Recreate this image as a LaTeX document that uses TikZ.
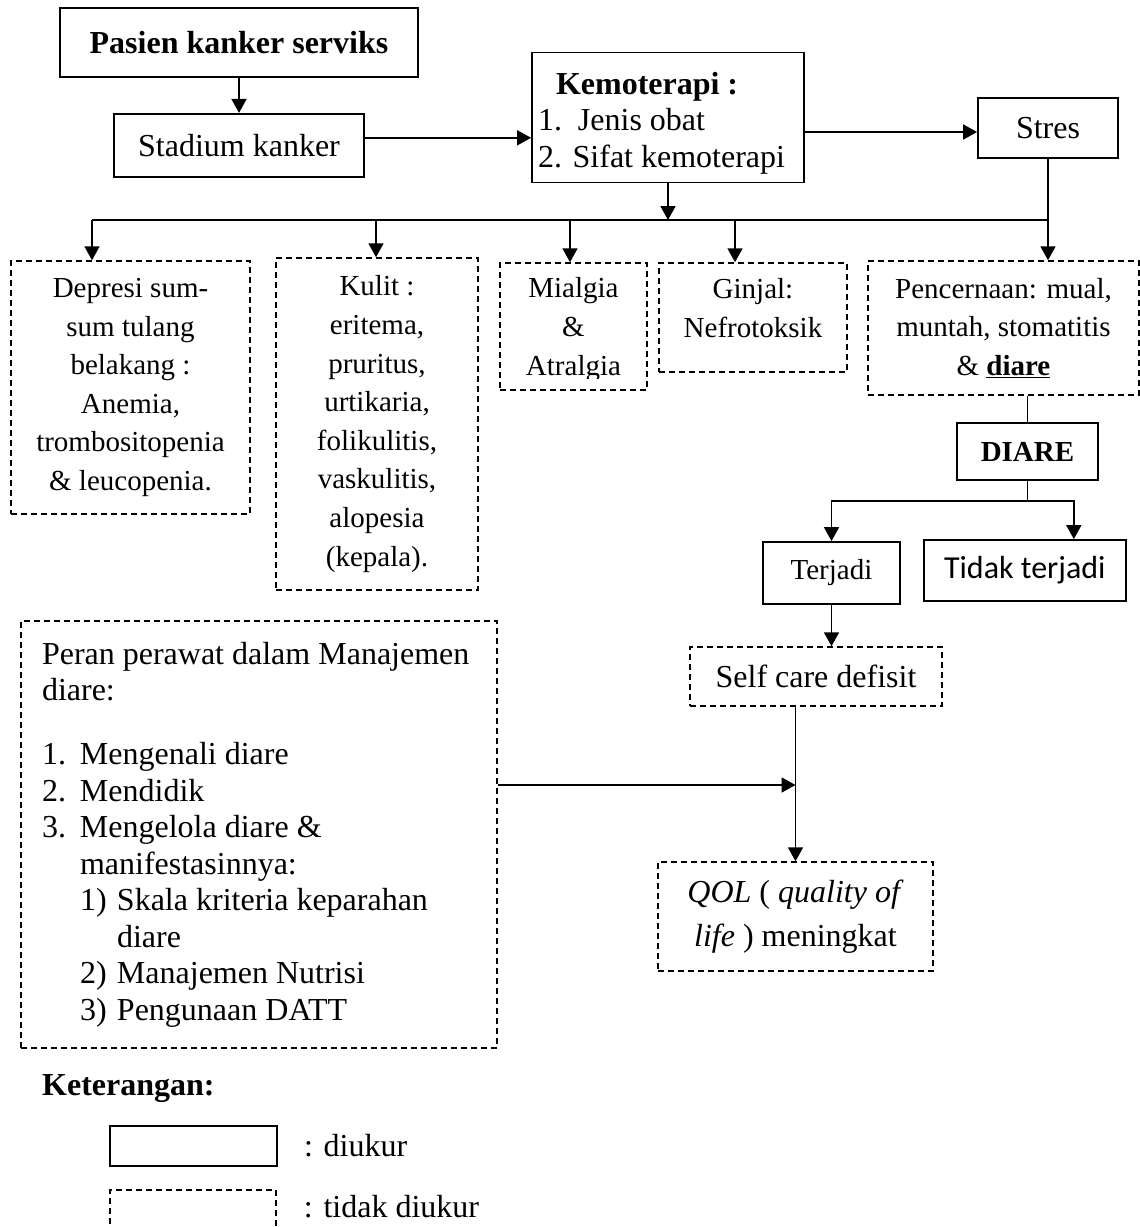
\documentclass[tikz,border=0pt]{standalone}
\usepackage{fontspec}
\setmainfont{Liberation Serif}
\newfontfamily\sansbody{Carlito}
\usepackage{tikz}
\usetikzlibrary{positioning,arrows.meta}
\newcommand{\fMain}{\fontsize{32}{36.5}\selectfont}
\newcommand{\fSide}{\fontsize{29}{38.6}\selectfont}

\begin{document}
\begin{tikzpicture}[x=1pt,y=-1pt,
  box/.style={draw,line width=1.8pt,inner sep=0pt,align=flush center,font=\fMain},
  dbox/.style={box,line width=1.5pt,dash pattern=on 6pt off 4pt},
  arr/.style={-{Triangle[length=14pt,width=15pt]},line width=1.8pt},
  ln/.style={line width=1.8pt}]
  \clip (0,0) rectangle (1140,1227);
  % top row
  \node[box,font=\fMain\bfseries,minimum width=358pt,minimum height=69pt] (pas) at (239,42.5) {Pasien kanker serviks};
  \node[box,minimum width=250pt,minimum height=63pt,below=35pt of pas] (stad) {Stadium kanker};
  \node[box,minimum width=272pt,minimum height=130pt] (kemo) at (668,117.5) {};
  \node[align=flush left,text width=266pt,inner sep=0pt,font=\fMain] (kemotxt) at (671,123)
    {\hspace*{18pt}\textbf{Kemoterapi :}\\1.\ \ Jenis obat\\2. Sifat kemoterapi};
  \node[box,minimum width=140pt,minimum height=60pt] (stres) at (1048,128) {Stres};
  % effects
  \node[dbox,font=\fSide,minimum width=239pt,minimum height=253pt] (dep) at (130.5,387.5)
    {Depresi sum-\\sum tulang\\belakang :\\Anemia,\\trombositopenia\\\& leucopenia.};
  \node[dbox,font=\fSide,minimum width=202pt,minimum height=332pt] (kul) at (377,424)
    {Kulit :\\eritema,\\pruritus,\\urtikaria,\\folikulitis,\\vaskulitis,\\alopesia\\(kepala).};
  \node[dbox,minimum width=147pt,minimum height=127pt] (mia) at (573.5,326.5) {};
  \begin{scope}
    \clip (mia.north west) rectangle ([yshift=12pt]mia.south east);
    \node[font=\fSide,align=flush center,inner sep=0pt] (miatxt) at ([yshift=-3pt]mia.center) {Mialgia\\\&\\Atralgia};
  \end{scope}
  \node[dbox,font=\fSide,text depth=19pt,minimum width=188pt,minimum height=109pt] (gin) at (753,317.5) {Ginjal:\\Nefrotoksik};
  \node[dbox,font=\fSide,minimum width=271pt,minimum height=134pt] (pen) at (1003.5,328)
    {Pencernaan: mual,\\muntah, stomatitis\\\& \textbf{\underline{diare}}};
  % diare branch
  \node[box,font=\fSide\bfseries,minimum width=141pt,minimum height=57pt] (dia) at (1027.5,451.5) {DIARE};
  \node[box,font=\fSide,minimum width=137pt,minimum height=62pt] (ter) at (831.5,573) {Terjadi};
  \node[box,font=\fMain\sansbody,minimum width=202pt,minimum height=61pt,right=22pt of ter,yshift=2.5pt] (tdk) {Tidak terjadi};
  \node[dbox,minimum width=252pt,minimum height=59pt] (sel) at (816,676.5) {Self care defisit};
  \node[dbox,font=\fontsize{32}{44}\selectfont,minimum width=275pt,minimum height=109pt] (qol) at (795.5,916.5)
    {\textit{QOL} ( \textit{quality of}\\\textit{life} ) meningkat};
  \node[dbox,align=flush left,text width=434pt,inner xsep=21pt,minimum height=427pt] (per) at (259,834.5)
    {Peran perawat dalam Manajemen\\diare:\\[27.5pt]
     \makebox[38pt][l]{1.}Mengenali diare\\
     \makebox[38pt][l]{2.}Mendidik\\
     \makebox[38pt][l]{3.}Mengelola diare \&\\
     \hspace*{38pt}manifestasinnya:\\
     \hspace*{38pt}\makebox[37pt][l]{1)}Skala kriteria keparahan\\
     \hspace*{75pt}diare\\
     \hspace*{38pt}\makebox[37pt][l]{2)}Manajemen Nutrisi\\
     \hspace*{38pt}\makebox[37pt][l]{3)}Pengunaan DATT};
  % legend
  \node[font=\fMain\bfseries,anchor=base west,inner sep=0pt] (ket) at (42,1095) {Keterangan:};
  \node[box,minimum width=167pt,minimum height=40pt] (lg1) at (193.5,1146) {};
  \node[dbox,minimum width=166pt,minimum height=50pt] (lg2) at (193,1215) {};
  \node[font=\fMain,inner sep=0pt,right=26pt of lg1] (lt1) {: diukur};
  \node[font=\fMain,inner sep=0pt,right=27pt of lg2,yshift=8pt] (lt2) {: tidak diukur};
  % connectors
  \coordinate (bL) at (92,220);
  \draw[arr] (stad.north |- pas.south) -- (stad.north);
  \draw[arr] ([yshift=7.5pt]stad.east) -- ([yshift=7.5pt]stad.east -| kemo.west);
  \draw[arr] ([yshift=-4pt]stres.west -| kemo.east) -- ([yshift=-4pt]stres.west);
  \draw[ln] (stres.south) -- (stres.south |- bL) -- (bL);
  \draw[arr] (kemo.south) -- (kemo.south |- bL);
  \foreach \x/\n in {92/dep,376/kul,570/mia,735/gin,1048/pen}
    \draw[arr] (\x,220) -- (\x,0 |- \n.north);
  \draw[ln] (dia.north |- pen.south) -- (dia.north);
  \coordinate (dj) at ([yshift=-20pt]dia.south);
  \draw[ln] (dia.south) -- (dj);
  \draw[arr] (dj) -| (ter.north);
  \draw[arr] (dj) -| ([xshift=49pt]tdk.north);
  \draw[arr] (ter.south) -- (ter.south |- sel.north);
  \draw[arr] (qol.north |- sel.south) -- (qol.north);
  \draw[arr] ([yshift=49.5pt]per.east) -- ([yshift=49.5pt]per.east -| qol.north);
\end{tikzpicture}
\end{document}
